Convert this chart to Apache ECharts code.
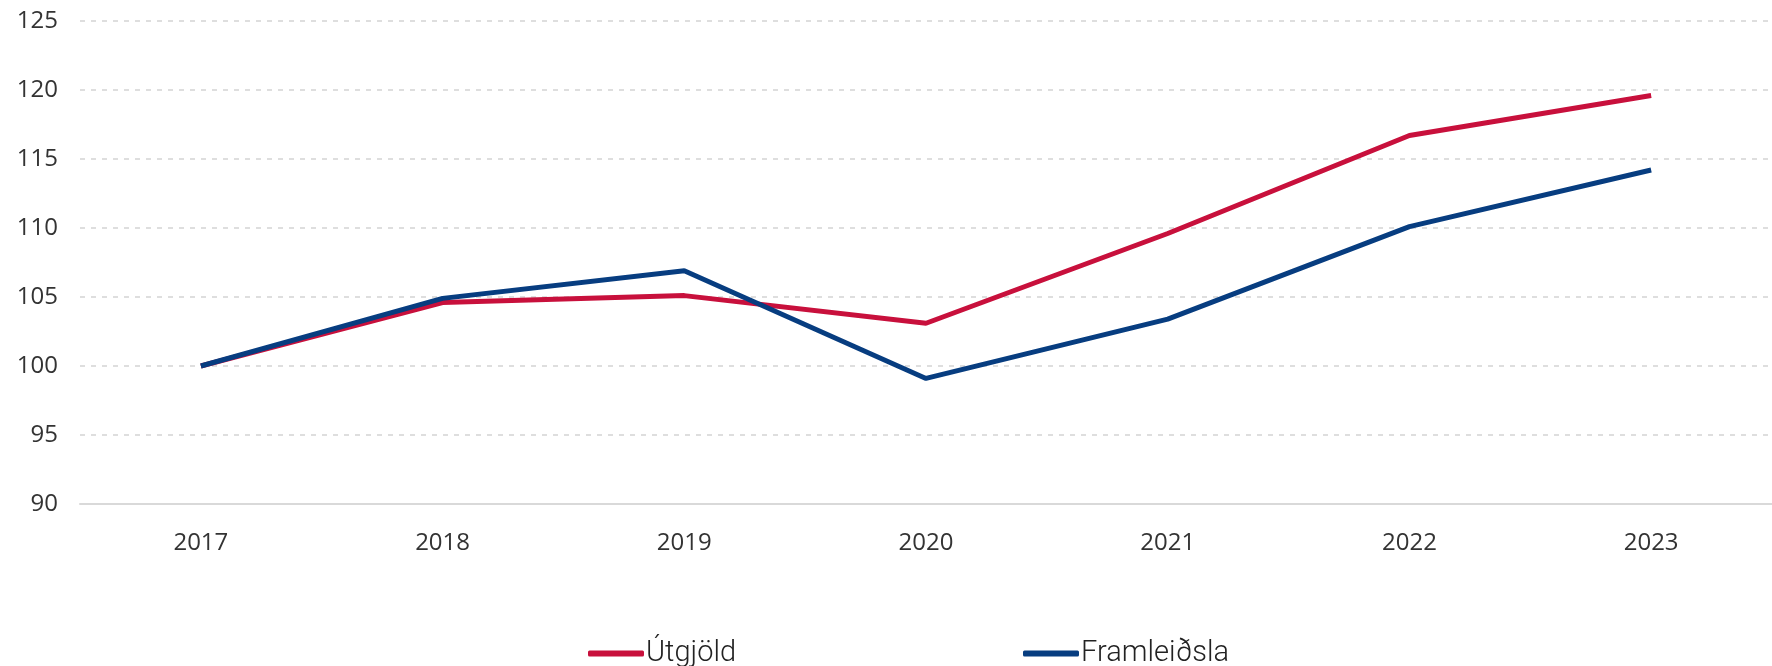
<!DOCTYPE html>
<html>
<head>
<meta charset="utf-8">
<script src="https://cdn.jsdelivr.net/npm/echarts@6/dist/echarts.min.js"></script>
<style>
  html, body { margin: 0; padding: 0; background: #fff; }
  #main { width: 1772px; height: 666px; }
</style>
</head>
<body>
<div id="main"></div>
<script>
var years = ['2017', '2018', '2019', '2020', '2021', '2022', '2023'];
var utgjold = [100, 104.6, 105.1, 103.1, 109.6, 116.7, 119.6];
var framleidsla = [100, 104.9, 106.9, 99.1, 103.4, 110.1, 114.2];

var myChart = echarts.init(document.getElementById('main'));

var legendText = {
    fontFamily: 'Roboto',
    fontWeight: 300,
    fontSize: 29,
    color: '#222',
    padding: [0, 0, 0, -3]
};

var option = {
    animation: false,
    grid: {
        left: 80,
        right: 0,
        top: 21,
        bottom: 162
    },
    legend: [
        {
            bottom: -7,
            left: 583,
            itemWidth: 56,
            itemHeight: 6,
            icon: 'roundRect',
            textStyle: legendText,
            data: ['Útgjöld']
        },
        {
            bottom: -7,
            left: 1018,
            itemWidth: 56,
            itemHeight: 6,
            icon: 'roundRect',
            textStyle: legendText,
            data: ['Framleiðsla']
        }
    ],
    xAxis: {
        type: 'category',
        data: years,
        axisTick: { show: false },
        axisLine: { lineStyle: { color: '#d9d9d9', width: 2 } },
        axisLabel: {
            margin: 27,
            fontFamily: 'Open Sans',
            fontSize: 24,
            color: '#333'
        }
    },
    yAxis: {
        type: 'value',
        min: 90,
        max: 125,
        interval: 5,
        axisLine: { show: false },
        axisTick: { show: false },
        axisLabel: {
            margin: 22,
            fontFamily: 'Open Sans',
            fontSize: 24,
            color: '#333'
        },
        splitLine: {
            lineStyle: {
                color: '#d4d4d4',
                width: 1.5,
                type: [5, 6]
            }
        }
    },
    series: [
        {
            name: 'Útgjöld',
            type: 'line',
            data: utgjold,
            showSymbol: false,
            symbol: 'none',
            lineStyle: { color: '#c8103c', width: 5 },
            itemStyle: { color: '#c8103c' }
        },
        {
            name: 'Framleiðsla',
            type: 'line',
            data: framleidsla,
            showSymbol: false,
            symbol: 'none',
            lineStyle: { color: '#073d80', width: 5 },
            itemStyle: { color: '#073d80' }
        }
    ]
};

myChart.setOption(option);
</script>
</body>
</html>
